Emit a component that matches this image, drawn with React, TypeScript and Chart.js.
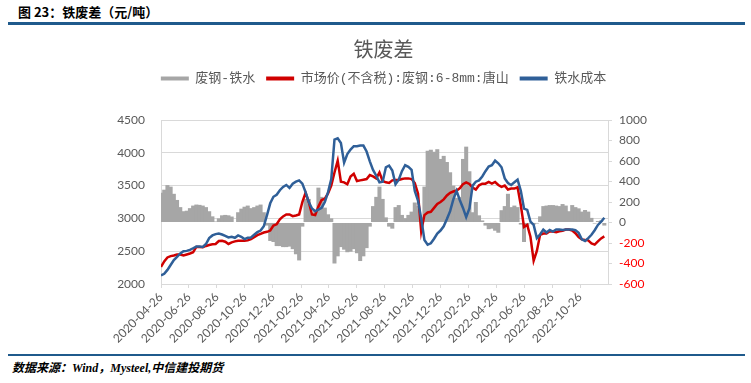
import React, { useEffect, useRef } from "react";
import { Chart, registerables } from "chart.js";

Chart.register(...registerables);

// ---- data ----
const START_DATE = "2020-04-26";
const STEP_DAYS = 7; // weekly observations
const AXIS_END = "2022-12-26";

const X_TICK_LABELS = [
  "2020-04-26", "2020-06-26", "2020-08-26", "2020-10-26", "2020-12-26",
  "2021-02-26", "2021-04-26", "2021-06-26", "2021-08-26", "2021-10-26",
  "2021-12-26", "2022-02-26", "2022-04-26", "2022-06-26", "2022-08-26",
  "2022-10-26",
];

const SERIES_NAMES = ["废钢-铁水", "市场价(不含税):废钢:6-8mm:唐山", "铁水成本"];

// 废钢-铁水 (right axis)
const SPREAD = [
  290, 320, 365, 350, 280, 220, 150, 110, 115, 140,
  165, 175, 172, 165, 150, 110, 60, 10, 40, 70,
  74, 70, 58, 5, 100, 135, 154, 165, 140, 150,
  165, 175, 100, -30, -180, -190, -230, -230, -240, -240,
  -235, -260, -310, -370, -40, 230, 230, 90, 120, 340,
  250, 145, 80, 40, -400, -330, -240, -265, -290, -285,
  -260, -300, -376, -330, -250, -40, 160, 250, 350, 230,
  50, -40, -60, 150, 170, 74, 42, 74, 106, 195,
  160, 50, 350, 700, 710, 690, 715, 620, 650, 590,
  490, 360, 240, 250, 620, 740, 500, 100, 200, 70,
  20, -30, -65, -60, -80, -100, 120, 160, 280, 150,
  165, 150, -20, -190, -40, -10, -20, -10, 60, 160,
  165, 170, 170, 165, 160, 180, 165, 110, 170, 150,
  138, 106, 122, 106, 45, -10, 15, 20, -30,
];

// 市场价(不含税):废钢:6-8mm:唐山 (left axis)
const SCRAP_PRICE = [
  2260, 2345, 2405, 2425, 2435, 2450, 2450, 2435, 2450, 2465,
  2485, 2565, 2565, 2560, 2580, 2595, 2605, 2610, 2655, 2660,
  2645, 2610, 2635, 2650, 2660, 2660, 2660, 2665, 2685, 2715,
  2745, 2765, 2785, 2795, 2815, 2890, 2910, 2985, 3030, 3060,
  3060, 3035, 3045, 3060, 3250, 3390, 3250, 3060, 3050, 3180,
  3280, 3300, 3380, 3500, 3700, 3880, 3560, 3550, 3520, 3640,
  3680, 3570, 3580, 3590, 3600, 3660, 3640, 3610, 3700, 3570,
  3550, 3540, 3580, 3585, 3585, 3600, 3610, 3610, 3600, 3540,
  3380, 2800, 3050, 3090, 3100, 3160, 3220, 3250, 3290, 3350,
  3390, 3410, 3425, 3460, 3520, 3550, 3525, 3470, 3440, 3505,
  3530, 3530, 3555, 3530, 3555, 3510, 3480, 3500, 3440, 3455,
  3455, 3475, 3200, 2870, 2900, 2720, 2355, 2505, 2750, 2770,
  2770, 2805, 2800, 2790, 2805, 2810, 2830, 2830, 2815, 2775,
  2715, 2680, 2670, 2665, 2620, 2600, 2650, 2695, 2725,
];

// 铁水成本 (left axis)
const HOT_METAL_COST = [
  2130, 2155, 2215, 2290, 2365, 2415, 2465, 2500, 2505, 2520,
  2545, 2570, 2570, 2565, 2610, 2700, 2740, 2760, 2770, 2755,
  2735, 2710, 2720, 2705, 2740, 2720, 2685, 2705, 2710, 2750,
  2790, 2815, 2880, 3050, 3230, 3330, 3360, 3430, 3480, 3510,
  3465, 3530, 3560, 3580, 3530, 3400, 3250, 3150, 3110, 3135,
  3160, 3250, 3400, 3600, 4200, 4220, 4150, 3850, 3980, 4050,
  4100, 4100, 4110, 4110, 4020, 3870, 3740, 3650, 3550, 3560,
  3780, 3805, 3730, 3520, 3590, 3720, 3810, 3785, 3740, 3420,
  3270, 3000, 2670, 2600, 2620, 2690, 2770, 2815, 2880, 2990,
  3110, 3290, 3420, 3280, 3160, 3020, 3150, 3500, 3560, 3580,
  3640, 3720, 3790, 3810, 3880, 3840, 3780, 3610, 3540, 3510,
  3550, 3590, 3420, 3150, 3130, 2950, 2900, 2700, 2755, 2830,
  2785, 2825, 2800, 2830, 2830, 2825, 2830, 2830, 2830, 2820,
  2780, 2680, 2655, 2700, 2750, 2820, 2900, 2950, 3010,
];

// ---- helpers ----
const utc = (s: string) => {
  const [y, m, d] = s.split("-").map(Number);
  return Date.UTC(y, m - 1, d);
};
const dayOf = (s: string) => Math.round((utc(s) - utc(START_DATE)) / 86400000);

const LABEL_BY_DAY: Record<number, string> = {};
X_TICK_LABELS.forEach((l) => {
  LABEL_BY_DAY[dayOf(l)] = l;
});

const toPoints = (vals: number[]) => vals.map((y, i) => ({ x: i * STEP_DAYS, y }));

const TICK_FONT = { family: "Lato, 'Noto Sans', sans-serif", size: 12 };
const GREY_TEXT = "#595959";
const GRID = "#D9D9D9";
const RULE_BLUE = "#1F5A8C";

const legendMargin = {
  id: "legendMargin",
  beforeInit(chart: any) {
    const legend = chart.legend;
    if (!legend) return;
    const origFit = legend.fit;
    legend.fit = function () {
      origFit.bind(legend)();
      this.height += 25;
    };
  },
};

export default function App() {
  const canvasRef = useRef<HTMLCanvasElement | null>(null);

  useEffect(() => {
    if (!canvasRef.current) return;
    const defaultGen = (Chart as any).defaults.plugins.legend.labels.generateLabels;
    const chart = new Chart(canvasRef.current, {
      type: "line",
      data: {
        datasets: [
          {
            type: "bar",
            label: SERIES_NAMES[0],
            data: toPoints(SPREAD),
            yAxisID: "y1",
            backgroundColor: "#A6A6A6",
            borderWidth: 0,
            barPercentage: 1.25,
            categoryPercentage: 1,
            order: 3,
          } as any,
          {
            type: "line",
            label: SERIES_NAMES[1],
            data: toPoints(SCRAP_PRICE),
            yAxisID: "y",
            borderColor: "#D00000",
            backgroundColor: "#D00000",
            borderWidth: 2.5,
            pointRadius: 0,
            tension: 0,
            order: 2,
          },
          {
            type: "line",
            label: SERIES_NAMES[2],
            data: toPoints(HOT_METAL_COST),
            yAxisID: "y",
            borderColor: "#2F5F98",
            backgroundColor: "#2F5F98",
            borderWidth: 2.5,
            pointRadius: 0,
            tension: 0,
            order: 1,
          },
        ],
      },
      options: {
        responsive: false,
        animation: false,
        devicePixelRatio: 1,
        layout: { padding: { left: 16, right: 0, top: 0, bottom: 0 } },
        plugins: {
          tooltip: { enabled: false },
          title: {
            display: true,
            text: "铁废差",
            color: GREY_TEXT,
            font: { family: "'Noto Sans CJK SC', sans-serif", size: 20, weight: "normal" },
            padding: { top: 10, bottom: 0 },
          },
          legend: {
            display: true,
            position: "top",
            labels: {
              color: GREY_TEXT,
              font: { family: "'Liberation Mono', 'Noto Sans CJK SC', monospace", size: 13 },
              boxWidth: 28,
              boxHeight: 4,
              padding: 11,
              sort: (a: any, b: any) => a.datasetIndex - b.datasetIndex,
              generateLabels: (c: any) =>
                defaultGen(c).map((it: any) => ({ ...it, lineWidth: 0 })),
            },
          },
        },
        scales: {
          x: {
            type: "linear",
            min: 0,
            max: dayOf(AXIS_END),
            offset: false,
            afterBuildTicks: (scale: any) => {
              scale.ticks = X_TICK_LABELS.map((l) => ({ value: dayOf(l) }));
            },
            afterFit: (scale: any) => {
              scale.height = 68;
            },
            grid: {
              offset: false,
              drawOnChartArea: false,
              drawTicks: true,
              tickLength: 4,
              color: GRID,
            },
            border: { color: GRID },
            ticks: {
              autoSkip: false,
              minRotation: 45,
              maxRotation: 45,
              padding: 2,
              color: GREY_TEXT,
              font: TICK_FONT,
              callback: (v: any) => LABEL_BY_DAY[Number(v)] ?? "",
            },
          },
          y: {
            position: "left",
            min: 2000,
            max: 4500,
            afterFit: (scale: any) => {
              scale.width = 145;
            },
            grid: { color: GRID, drawTicks: false },
            border: { color: GRID },
            ticks: {
              stepSize: 500,
              padding: 16,
              color: GREY_TEXT,
              font: TICK_FONT,
              callback: (v: any) => String(v),
            },
          },
          y1: {
            position: "right",
            min: -600,
            max: 1000,
            afterFit: (scale: any) => {
              scale.width = 143;
            },
            grid: { drawOnChartArea: false, drawTicks: true, tickLength: 4, color: GRID },
            border: { color: GRID },
            ticks: {
              stepSize: 200,
              padding: 7,
              font: TICK_FONT,
              callback: (v: any) => String(v),
              color: (ctx: any) => (ctx.tick && ctx.tick.value < 0 ? "#FF0000" : GREY_TEXT),
            },
          },
        },
      } as any,
      plugins: [legendMargin],
    });
    return () => chart.destroy();
  }, []);

  return (
    <div
      style={{
        position: "fixed",
        left: 0,
        top: 0,
        width: 751,
        height: 383,
        background: "#fff",
        overflow: "hidden",
      }}
    >
      <div
        style={{
          position: "absolute",
          left: 18,
          top: 3,
          fontFamily: "'Noto Sans CJK SC', sans-serif",
          fontWeight: 700,
          fontSize: 13,
          lineHeight: "18px",
          color: "#000",
          whiteSpace: "nowrap",
        }}
      >
        图 23：铁废差（元/吨）
      </div>
      <div
        style={{ position: "absolute", left: 8, top: 22, width: 737, height: 3, background: RULE_BLUE }}
      />
      <canvas
        ref={canvasRef}
        width={751}
        height={325}
        style={{ position: "absolute", left: 0, top: 27, width: 751, height: 325 }}
      />
      <div
        style={{ position: "absolute", left: 8, top: 354, width: 737, height: 2, background: RULE_BLUE }}
      />
      <div
        style={{
          position: "absolute",
          left: 12,
          top: 359,
          fontFamily: "'Liberation Serif', 'Noto Sans CJK SC', serif",
          fontWeight: 700,
          fontStyle: "italic",
          fontSize: 12,
          lineHeight: "18px",
          color: "#000",
          whiteSpace: "nowrap",
        }}
      >
        数据来源：Wind，Mysteel,中信建投期货
      </div>
    </div>
  );
}
